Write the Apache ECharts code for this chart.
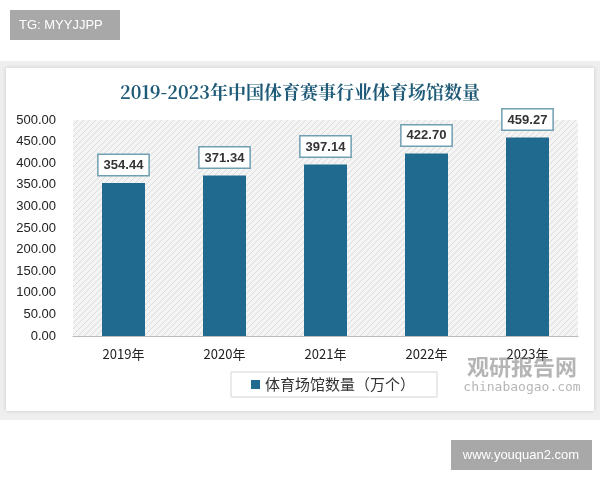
<!DOCTYPE html>
<html><head><meta charset="utf-8">
<script src="https://cdn.jsdelivr.net/npm/echarts@6/dist/echarts.min.js"></script>
<style>html,body{margin:0;padding:0;background:#fff}#c{width:600px;height:480px}</style>
</head><body><div id="c"></div>
<script>
const categories = ['2019年','2020年','2021年','2022年','2023年'];
const values = [354.44, 371.34, 397.14, 422.70, 459.27];
const seriesName = '体育场馆数量（万个）';
const titleText = '2019-2023年中国体育赛事行业体育场馆数量';

const pc = document.createElement('canvas'); pc.width = 6; pc.height = 6;
const g = pc.getContext('2d'); g.fillStyle = '#f4f4f4'; g.fillRect(0,0,6,6);
g.strokeStyle = '#dcdcdc'; g.lineWidth = 1;
g.beginPath(); g.moveTo(0,6); g.lineTo(6,0); g.moveTo(-1,1); g.lineTo(1,-1); g.moveTo(5,7); g.lineTo(7,5); g.stroke();

const chart = echarts.init(document.getElementById('c'));
chart.setOption({
  animation: false,
  backgroundColor: '#fff',
  graphic: [
    {type:'rect', shape:{x:0,y:61,width:600,height:359}, style:{fill:'#eeeeee'}, z:-10},
    {type:'rect', shape:{x:6,y:68,width:588,height:343}, style:{fill:'#fff', shadowBlur:4, shadowColor:'rgba(0,0,0,0.15)'}, z:-9},
    {type:'rect', shape:{x:10,y:10,width:110,height:30}, style:{fill:'#a8a8a8'}},
    {type:'text', x:19, y:25, style:{text:'TG: MYYJJPP', fill:'#fff', font:'13px "Liberation Sans", Arial', verticalAlign:'middle'}},
    {type:'rect', shape:{x:451,y:440,width:141,height:30}, style:{fill:'#a8a8a8'}},
    {type:'text', x:521, y:455, style:{text:'www.youquan2.com', fill:'#fff', font:'13px "Liberation Sans", Arial', align:'center', verticalAlign:'middle'}},
    {type:'text', x:522, y:367, style:{text:'观研报告网', fill:'rgba(120,120,120,0.55)', font:'bold 22px "Noto Sans CJK SC"', align:'center', verticalAlign:'middle'}, z:10},
    {type:'text', x:522, y:388, style:{text:'chinabaogao.com', fill:'rgba(120,120,120,0.55)', font:'13px "DejaVu Sans Mono"', align:'center', verticalAlign:'middle'}, z:10}
  ],
  title: {text: titleText, left:'center', top:78,
    textStyle:{fontFamily:'"Noto Serif CJK SC","Noto Sans CJK SC", serif', fontWeight:'bold', fontSize:18, color:'#1f5b78'}},
  legend: {top: 372, left:231, itemWidth:9, itemHeight:9, icon:'rect',
    borderColor:'#d5d5d5', borderWidth:1, padding:[5,22,5,20],
    textStyle:{fontFamily:'"Noto Sans CJK SC"', fontSize:15, color:'#333'}},
  grid: {left:73, right:22, top:120, bottom:144, show:true, borderWidth:0,
    backgroundColor:{image: pc, repeat:'repeat'}},
  xAxis: {type:'category', data: categories,
    axisLine:{lineStyle:{color:'#bbb'}}, axisTick:{show:false},
    axisLabel:{color:'#222', fontSize:13, margin:12, fontFamily:'"Noto Sans CJK SC"'}},
  yAxis: {type:'value', min:0, max:500, interval:50, splitLine:{show:false},
    axisLabel:{color:'#222', fontSize:13, formatter:v=>v.toFixed(2), margin:17, fontFamily:'"Liberation Sans"'}},
  series: [{name: seriesName, type:'bar', data: values, barWidth:43,
    itemStyle:{color:'#1f6a8e'},
    label:{show:true, position:'top', distance:8, formatter:p=>p.value.toFixed(2),
      backgroundColor:'#fff', borderColor:'#6f9fb0', borderWidth:1.5, padding:[4,5,3,5],
      color:'#333', fontWeight:'bold', fontSize:13, fontFamily:'"Liberation Sans"'}}]
});
</script></body></html>
